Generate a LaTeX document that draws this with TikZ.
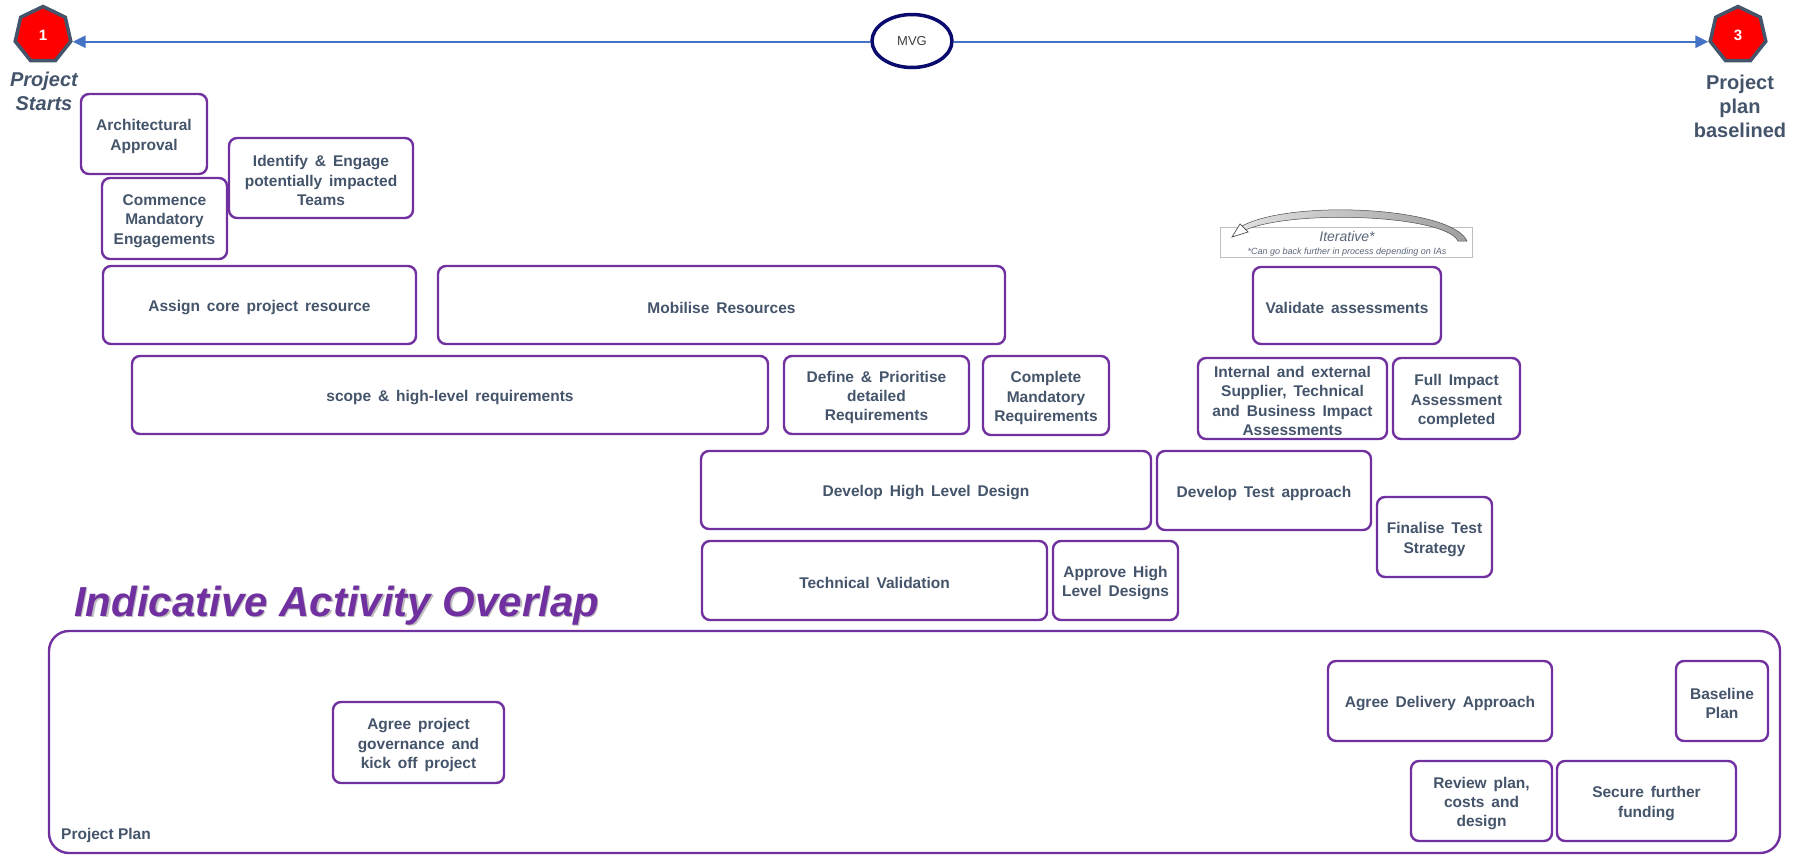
\documentclass[tikz,border=0pt]{standalone}
\usepackage{fontspec}
\setmainfont{Liberation Sans}
\newfontfamily\boxfont[WordSpace=1.6]{Liberation Sans}
\usetikzlibrary{shapes.geometric,arrows.meta}
\definecolor{ink}{HTML}{44546A}
\definecolor{boxline}{HTML}{7030A0}
\definecolor{flow}{HTML}{4472C4}
\definecolor{navy}{HTML}{0A0A6E}
\definecolor{iterink}{HTML}{5A6678}

% activity box: name, x1, y1, x2, y2, text
\newcommand{\act}[6]{%
  \node[act, minimum width={#4-#2}, minimum height={#5-#3}] (#1)
    at ({(#2+#4)/2},{(#3+#5)/2}) {};
  \node[acttext] (#1-t) at ([yshift=-2.5pt]#1.center) {#6};}

\tikzset{
  act/.style={draw=boxline, line width=2.4pt, rounded corners=8pt, fill=white, inner sep=0pt},
  acttext/.style={align=center, inner sep=0pt, text=ink,
    font=\boxfont\fontsize{15.5}{19.3}\selectfont\bfseries},
  planbox/.style={draw=boxline, line width=2.4pt, rounded corners=20pt},
  hept/.style={regular polygon, regular polygon sides=7, minimum size=57pt,
    fill=red, draw=ink, line width=3.5pt, text=white, inner sep=0pt,
    font=\fontsize{15}{15}\selectfont\bfseries},
  milestone/.style={align=center, text=ink, inner sep=0pt},
  flowline/.style={draw=flow, line width=2.5pt},
  iterbox/.style={draw=black!25, line width=0.8pt, fill=white},
}

\begin{document}
\begin{tikzpicture}[x=1pt, y=-1pt]
\useasboundingbox (0,0) rectangle (1797,855);

% milestones and timeline
\node[hept] (start) at (43,35) {1};
\node[hept] (finish) at (1738,35) {3};
\node[ellipse, draw=navy, line width=3.5pt, fill=white, minimum width=80pt,
  minimum height=53pt, text=black!75, font=\fontsize{13}{15}\selectfont] (mvg) at (912,41) {MVG};
\draw[flowline, {Triangle[length=13pt,width=12pt]}-] (start.corner 6) -- (start.corner 6 -| mvg.west);
\draw[flowline, -{Triangle[length=13pt,width=12pt]}] (finish.corner 3 -| mvg.east) -- (finish.corner 3);

\node[milestone, font=\fontsize{20}{24}\selectfont\bfseries\itshape] (startlbl) at (44,91) {Project\\Starts};
\node[milestone, font=\fontsize{20}{24}\selectfont\bfseries] (finishlbl) at (1740,106) {Project\\plan\\baselined};

% iteration note
\node[iterbox, minimum width=252pt, minimum height=30pt] (iter) at (1346.5,242) {};
\node[text=iterink, inner sep=0pt, font=\fontsize{14}{14}\selectfont\itshape] (itertitle) at (1347,236) {Iterative*};
\node[text=iterink, inner sep=0pt, font=\fontsize{9}{9}\selectfont\itshape] (iternote) at (1347,252) {*Can go back further in process depending on IAs};
\shade[left color=gray!25, right color=gray!75, draw=gray!60!black, line width=0.5pt]
  (1467,241) .. controls (1452,207) and (1292,199) .. (1242,226)
  -- (1245,230) .. controls (1295,209) and (1445,215) .. (1458,241) -- cycle;
\filldraw[fill=white, draw=gray!60!black, line width=0.7pt]
  (1232,237) -- (1240,224) -- (1248,232) -- cycle;

% activities
\act{arch}{81}{94}{207}{174}{Architectural\\Approval}
\act{comm}{102}{178}{227}{259}{Commence\\Mandatory\\Engagements}
\act{ident}{229}{138}{413}{218}{Identify \& Engage\\potentially impacted\\Teams}
\act{assign}{103}{266}{416}{344}{Assign core project resource}
\act{mob}{438}{266}{1005}{344}{Mobilise Resources}
\act{valid}{1253}{267}{1441}{344}{Validate assessments}
\act{scope}{132}{356}{768}{434}{scope \& high-level requirements}
\act{define}{784}{356}{969}{434}{Define \& Prioritise\\detailed\\Requirements}
\act{cmreq}{983}{356}{1109}{435}{Complete\\Mandatory\\Requirements}
\act{ia}{1198}{358}{1387}{439}{Internal and external\\Supplier, Technical\\and Business Impact\\Assessments}
\act{fia}{1393}{358}{1520}{439}{Full Impact\\Assessment\\completed}
\act{hld}{701}{451}{1151}{529}{Develop High Level Design}
\act{test}{1157}{451}{1371}{530}{Develop Test approach}
\act{strat}{1377}{497}{1492}{577}{Finalise Test\\Strategy}
\act{techval}{702}{541}{1047}{620}{Technical Validation}
\act{approve}{1053}{541}{1178}{620}{Approve High\\Level Designs}

% heading
\node[anchor=base west, inner sep=0pt, text=black!25, font=\fontsize{42}{46}\selectfont\bfseries\itshape] (titleshadow) at (75.2,617.2) {Indicative Activity Overlap};
\node[anchor=base west, inner sep=0pt, text=boxline, font=\fontsize{42}{46}\selectfont\bfseries\itshape] (title) at (74,616) {Indicative Activity Overlap};

% project plan lane
\node[planbox, minimum width=1731pt, minimum height=222pt] (plan) at (914.5,742) {};
\node[anchor=base west, inner sep=0pt, text=ink, font=\fontsize{15.5}{18}\selectfont\bfseries] (planlbl) at (61,839) {Project Plan};
\act{gov}{333}{702}{504}{783}{Agree project\\governance and\\kick off project}
\act{deliv}{1328}{661}{1552}{741}{Agree Delivery Approach}
\act{base}{1676}{661}{1768}{741}{Baseline\\Plan}
\act{review}{1411}{761}{1552}{841}{Review plan,\\costs and\\design}
\act{fund}{1557}{761}{1736}{841}{Secure further\\funding}
\end{tikzpicture}
\end{document}
